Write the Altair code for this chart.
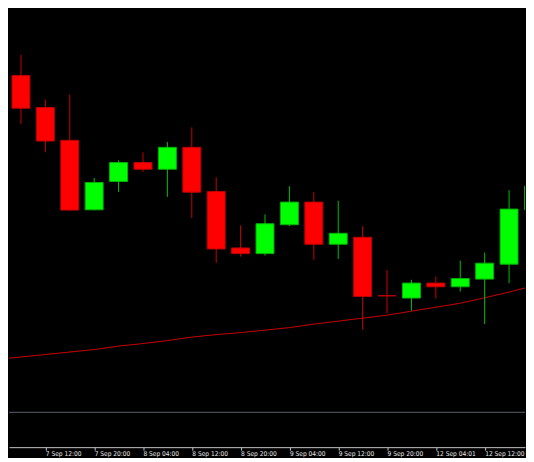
import json
import altair as alt
import pandas as pd

# H4 candles (index 0..22); the weekend gap is skipped like the platform does
times = ["7 Sep 04:00", "7 Sep 08:00", "7 Sep 12:00", "7 Sep 16:00", "7 Sep 20:00",
         "8 Sep 00:00", "8 Sep 04:00", "8 Sep 08:00", "8 Sep 12:00", "8 Sep 16:00",
         "8 Sep 20:00", "9 Sep 00:00", "9 Sep 04:00", "9 Sep 08:00", "9 Sep 12:00",
         "9 Sep 16:00", "9 Sep 20:00", "12 Sep 00:00", "12 Sep 04:01", "12 Sep 08:00",
         "12 Sep 12:00", "12 Sep 16:00", "12 Sep 20:00"]
opens = [1.35055, 1.3505, 1.3473, 1.3440, 1.33703, 1.33987, 1.34177, 1.3411, 1.3433,
         1.33887, 1.3332, 1.33263, 1.33553, 1.3378, 1.33357, 1.33427, 1.3284, 1.32817,
         1.32967, 1.3293, 1.33007, 1.33157, 1.33703]
highs = [1.3506, 1.3526, 1.3481, 1.3486, 1.34023, 1.3420, 1.3428, 1.34383, 1.3453,
         1.3403, 1.33547, 1.33657, 1.3394, 1.3388, 1.33793, 1.3354, 1.3310, 1.3300,
         1.33033, 1.33193, 1.33273, 1.3390, 1.3397]
lows = [1.3503, 1.34563, 1.3428, 1.3369, 1.33697, 1.33883, 1.34083, 1.33833, 1.3362,
        1.3317, 1.33233, 1.33243, 1.3354, 1.3320, 1.3321, 1.3250, 1.32663, 1.3269,
        1.32813, 1.32883, 1.32557, 1.32967, 1.3368]
closes = [1.35042, 1.34723, 1.34393, 1.3370, 1.33977, 1.34177, 1.3411, 1.3433, 1.3388,
          1.3331, 1.33263, 1.33563, 1.3378, 1.33357, 1.33467, 1.32833, 1.3284, 1.32967,
          1.3293, 1.33013, 1.33167, 1.3371, 1.3394]
ma = [1.32202, 1.32225, 1.3225, 1.32275, 1.3230, 1.32335, 1.3236, 1.3239, 1.32425,
      1.3245, 1.3247, 1.32495, 1.3252, 1.32555, 1.32585, 1.32615, 1.32645, 1.32685,
      1.32725, 1.32765, 1.3282, 1.32877, 1.3294]

df = pd.DataFrame({
    "i": list(range(len(times))),
    "time": times,
    "open": opens,
    "high": highs,
    "low": lows,
    "close": closes,
    "ma": ma,
})
df["dir"] = ["up" if c > o else "down" for o, c in zip(opens, closes)]

tick_values = [i for i in range(2, len(times) - 1, 2)]

W, H = 518, 440
xscale = alt.Scale(domain=[0.510204, 21.653061], nice=False, zero=False, padding=0)
yscale = alt.Scale(domain=[1.3132, 1.3572], nice=False, zero=False)

x = alt.X("i:Q", scale=xscale, title=None,
          axis=alt.Axis(values=tick_values, labelExpr=f"{json.dumps(times)}[datum.value]",
                        grid=False, domainColor="#c4c4c4", tickColor="#c4c4c4",
                        tickSize=3, labelPadding=0, labelAlign="left",
                        labelColor="#e8e8e8", labelFontSize=6.6,
                        labelFont="DejaVu Sans Condensed",
                        labelOverlap=False, labelFlush=False))

base = alt.Chart(df)

wicks = base.mark_rule(strokeWidth=1, clip=True).encode(
    x=x,
    y=alt.Y("low:Q", scale=yscale, axis=None),
    y2="high:Q",
    color=alt.Color("dir:N", scale=alt.Scale(domain=["up", "down"], range=["#00c000", "#c80000"]),
                    legend=None),
)

bodies = base.mark_bar(size=18, strokeWidth=1, clip=True).encode(
    x=x,
    y=alt.Y("open:Q", scale=yscale, axis=None),
    y2="close:Q",
    fill=alt.Fill("dir:N", scale=alt.Scale(domain=["up", "down"], range=["#00ff00", "#ff0000"]),
                  legend=None),
    stroke=alt.Stroke("dir:N", scale=alt.Scale(domain=["up", "down"], range=["#00b400", "#c00000"]),
                      legend=None),
)

ma_line = base.mark_line(color="#c80000", strokeWidth=1, clip=True).encode(
    x=x,
    y=alt.Y("ma:Q", scale=yscale, axis=None),
)

sep = alt.Chart(pd.DataFrame({"k": [0]})).mark_rule(color="#5c6068", strokeWidth=1).encode(
    x=alt.value(0), x2=alt.value(W), y=alt.value(405)
)

chart = alt.layer(sep, ma_line, wicks, bodies).properties(
    width=W, height=H, background="#000000", padding=0
).configure_view(stroke=None)

chart.save("out.html", embed_options={"renderer": "svg", "actions": False})
